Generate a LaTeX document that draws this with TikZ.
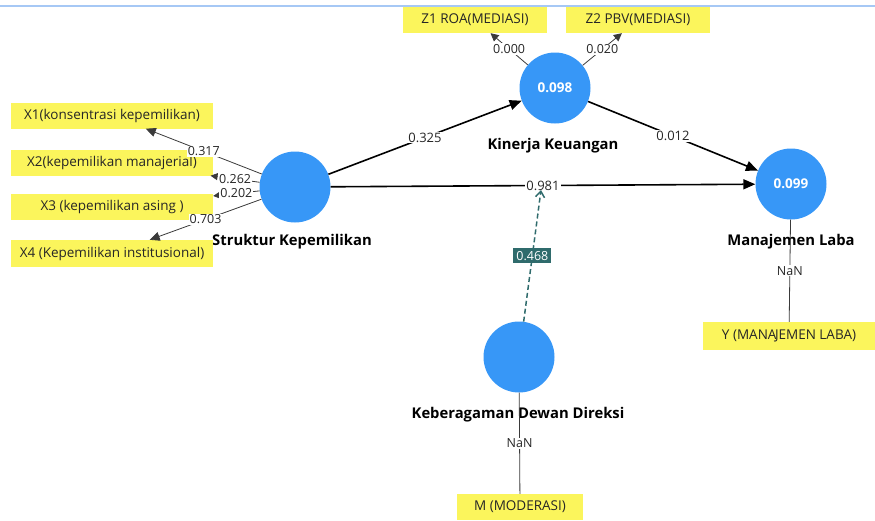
\documentclass[tikz,border=0pt]{standalone}
\usepackage{fontspec}
\setmainfont{Open Sans}
\usetikzlibrary{arrows.meta}
\definecolor{lvblue}{HTML}{3797F7}
\definecolor{mvyellow}{HTML}{FBF55C}
\definecolor{modteal}{HTML}{2F6B6C}
\definecolor{topblue}{HTML}{A6C8F5}
\definecolor{thingray}{HTML}{3A3A3A}
\begin{document}
\begin{tikzpicture}[x=1pt,y=-1pt]
      \useasboundingbox (0,0) rectangle (875,520);
      \draw[topblue,line width=2.5pt] (0,6) -- (875,6);
      \begin{scope}[every node/.style={circle,fill=lvblue,minimum size=71pt,inner sep=0pt,text=white,font=\fontsize{13.5}{15}\selectfont\bfseries}]
        \node (s) at (295,187) {};
        \node (k) at (555,88) {0.098};
        \node (m) at (791,184) {0.099};
        \node (d) at (519,357) {};
      \end{scope}
      \begin{scope}[every node/.style={font=\fontsize{14.8}{16}\selectfont\bfseries,text=black}]
        \node (sl) at (292,242) {Struktur Kepemilikan};
        \node (kl) at (553,146) {Kinerja Keuangan};
        \node (ml) at (791,242) {Manajemen Laba};
        \node (dl) at (518,415) {Keberagaman Dewan Direksi};
      \end{scope}
      \begin{scope}[every node/.style={fill=mvyellow,inner sep=0pt,minimum height=26pt,font=\fontsize{13.5}{15}\selectfont,text=black!85}]
        \node[minimum width=202pt] (x1) at (112,115.5) {X1(konsentrasi kepemilikan)};
        \node[minimum width=202pt] (x2) at (112,162.5) {X2(kepemilikan manajerial)};
        \node[minimum width=202pt] (x3) at (112,207) {X3 (kepemilikan asing )};
        \node[minimum width=202pt,minimum height=27pt] (x4) at (112,253.5) {X4 (Kepemilikan institusional)};
        \node[minimum width=144pt] (z1) at (475,20) {Z1 ROA(MEDIASI)};
        \node[minimum width=144pt] (z2) at (638,20) {Z2 PBV(MEDIASI)};
        \node[minimum width=172pt,minimum height=28pt] (y) at (789,336) {Y (MANA\kern-1.5pt JEMEN LABA)};
        \node[minimum width=126pt] (mo) at (520,507) {M (MODERASI)};
      \end{scope}
      % outer loadings
      \begin{scope}[every edge/.style={draw=thingray,line width=0.8pt},
                    every node/.style={fill=white,inner sep=1pt,font=\fontsize{12.5}{14}\selectfont,text=black!85}]
        \path (s) edge[-{Triangle[length=10pt,width=9pt]}] node {0.317} (x1);
        \path (s) edge[-{Triangle[length=7pt,width=7pt]}] node {0.262} (x2);
        \path (s) edge[-{Triangle[length=7pt,width=7pt]}] node {0.202} (x3);
        \path (s) edge[-{Triangle[length=10pt,width=9pt]}] node {0.703} (x4);
        \path (k) edge[-{Triangle[length=8pt,width=8pt]}] node {0.000} (z1);
        \path (k) edge[-{Triangle[length=8pt,width=8pt]}] node {0.020} (z2);
        \path (m) edge node {NaN} (y);
        \path (d) edge node {NaN} (mo);
      \end{scope}
      % inner model
      \begin{scope}[every edge/.style={draw=black,line width=1.6pt,-{Triangle[length=12pt,width=10pt]}},
                    every node/.style={fill=white,inner sep=1pt,font=\fontsize{13}{15}\selectfont,text=black!85}]
        \path (s) edge node {0.325} (k);
        \path (k) edge node {0.012} (m);
        \path (s) edge node (pm) {0.981} (m);
      \end{scope}
      \coordinate (pmt) at (541,190);
      \path (d) edge[draw=modteal,line width=1.5pt,dash pattern=on 5pt off 3pt,-{Straight Barb[length=6pt,width=9pt]}]
        node[fill=modteal,text=white,inner sep=3pt,font=\fontsize{12.5}{14}\selectfont] {0.468} (pmt);
    \end{tikzpicture}
\end{document}
